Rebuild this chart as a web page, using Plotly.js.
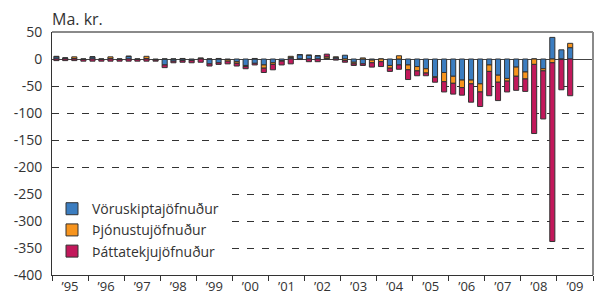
<!DOCTYPE html>
<html>
<head>
<meta charset="utf-8">
<script src="https://cdn.plot.ly/plotly-3.0.1.min.js"></script>
<style>html,body{margin:0;padding:0;background:#fff}#chart{width:597px;height:295px}</style>
</head>
<body>
<div id="chart"></div>
<script>
// Quarters 1995Q1 .. 2009Q2
const years = [1995,1996,1997,1998,1999,2000,2001,2002,2003,2004,2005,2006,2007,2008,2009];
const quarters = [];
years.forEach(y => { for (let q = 1; q <= 4; q++) { if (y === 2009 && q > 2) break; quarters.push(y + 'Q' + q); } });

const seriesNames = ['Vöruskiptajöfnuður', 'Þjónustujöfnuður', 'Þáttatekjujöfnuður'];

const voruskipti = [
  4, 2, 1, -1,
  4, -1, 1, -1,
  5, -1, 1, -1,
  -11, -4, -3, -2,
  1, -9, -7, -1,
  -5, -12, -8, -11,
  -7, -3, 3, 8,
  7, 6, 1, 3,
  7, -6, -9, -2,
  0, -12, -11, -11,
  -14, -18, -33, -25,
  -32, -39, -39, -46,
  -11, -30, -36, -15,
  -24, 0, -18, 40,
  17, 21
];
const thjonusta = [
  1, 0, 3, 0,
  0, 0, 3, 0,
  0, 0, 4, -1,
  0, 0, 1, -1,
  1, 0, 1, -3,
  -3, -2, 1, -6,
  -3, -1, 2, 0,
  0, 0, 3, 1,
  -3, -3, 2, -5,
  -5, -5, 6, -9,
  -8, -8, -1, -17,
  -13, -14, -7, -15,
  -12, -13, -5, -17,
  -13, -10, -4, -7,
  -1, 8
];
const thattatekjur = [
  -3, -3, -3, -3,
  -4, -3, -4, -3,
  -4, -3, -4, -2,
  -5, -3, -3, -4,
  -6, -4, -3, -5,
  -5, -4, -3, -8,
  -10, -7, -9, -1,
  -5, -5, 5, -2,
  -3, -3, -3, -8,
  -9, -6, -8, -18,
  -9, -5, -9, -19,
  -20, -14, -34, -27,
  -45, -34, -20, -26,
  -23, -128, -89, -331,
  -56, -68
];

const yTickVals = [50, 0, -50, -100, -150, -200, -250, -300, -350, -400];
const yTickText = ['50', '0', '-50', '-100', '-150', '-200', '-250', '-300', '-350', '-400'];
const yUnit = 'Ma. kr.';

// quarter label -> date at middle of quarter
function qDate(s) {
  const y = +s.slice(0, 4), q = +s.slice(5);
  const m = (q - 1) * 3 + 2;
  return y + '-' + (m < 10 ? '0' + m : m) + '-15';
}
const xDates = quarters.map(qDate);

const colors = ['#3b7dc0', '#f7941d', '#c2185b'];
const values = [voruskipti, thjonusta, thattatekjur];

const traces = values.map((v, i) => ({
  type: 'bar',
  x: xDates,
  y: v,
  name: seriesNames[i],
  marker: { color: colors[i], line: { color: '#333', width: 1 } },
  hoverinfo: 'x+y+name'
}));

const font = "'Open Sans', 'DejaVu Sans', sans-serif";

const layout = {
  width: 597, height: 295,
  margin: { l: 52, r: 4, t: 32, b: 20 },
  paper_bgcolor: '#fff', plot_bgcolor: '#fff',
  barmode: 'relative',
  bargap: 0.42,
  font: { family: font, size: 14, color: '#333' },
  title: { text: yUnit, x: 52 / 597, xanchor: 'left', xref: 'container', y: 1 - 19 / 295, yanchor: 'middle', font: { family: font, size: 16, color: '#333' } },
  xaxis: {
    type: 'date',
    range: ['1995-01-01', '2010-01-01'],
    tick0: '1995-01-01', dtick: 'M12',
    ticklabelmode: 'period',
    tickformat: '’%y',
    ticks: 'outside', ticklen: 5, tickcolor: '#333', tickwidth: 1,
    ticklabelstandoff: -6,
    showline: true, linecolor: '#333', linewidth: 1,
    showgrid: false, zeroline: false,
    tickfont: { size: 13, color: '#333' }
  },
  yaxis: {
    range: [-400, 50],
    tickvals: yTickVals, ticktext: yTickText,
    ticks: '', ticklabelstandoff: 6,
    showline: true, linecolor: '#333', linewidth: 1,
    showgrid: true, gridcolor: '#333', gridwidth: 1, griddash: '7px,8px',
    zeroline: true, zerolinecolor: '#444', zerolinewidth: 1,
    tickfont: { size: 14, color: '#333' }
  },
  legend: {
    x: 0, xanchor: 'left', y: 0.337, yanchor: 'top',
    bgcolor: '#fff', borderwidth: 0,
    font: { size: 14, color: '#333' },
    tracegroupgap: 0
  },
  shapes: [
    { type: 'line', xref: 'paper', yref: 'paper', x0: 0, x1: 1, y0: 1, y1: 1, line: { color: '#8a8a8a', width: 2 } },
    { type: 'line', xref: 'paper', yref: 'paper', x0: 1, x1: 1, y0: 0, y1: 1, line: { color: '#8a8a8a', width: 2 } }
  ],
  showlegend: true
};

Plotly.newPlot('chart', traces, layout, { displayModeBar: false, staticPlot: true });
</script>
</body>
</html>
